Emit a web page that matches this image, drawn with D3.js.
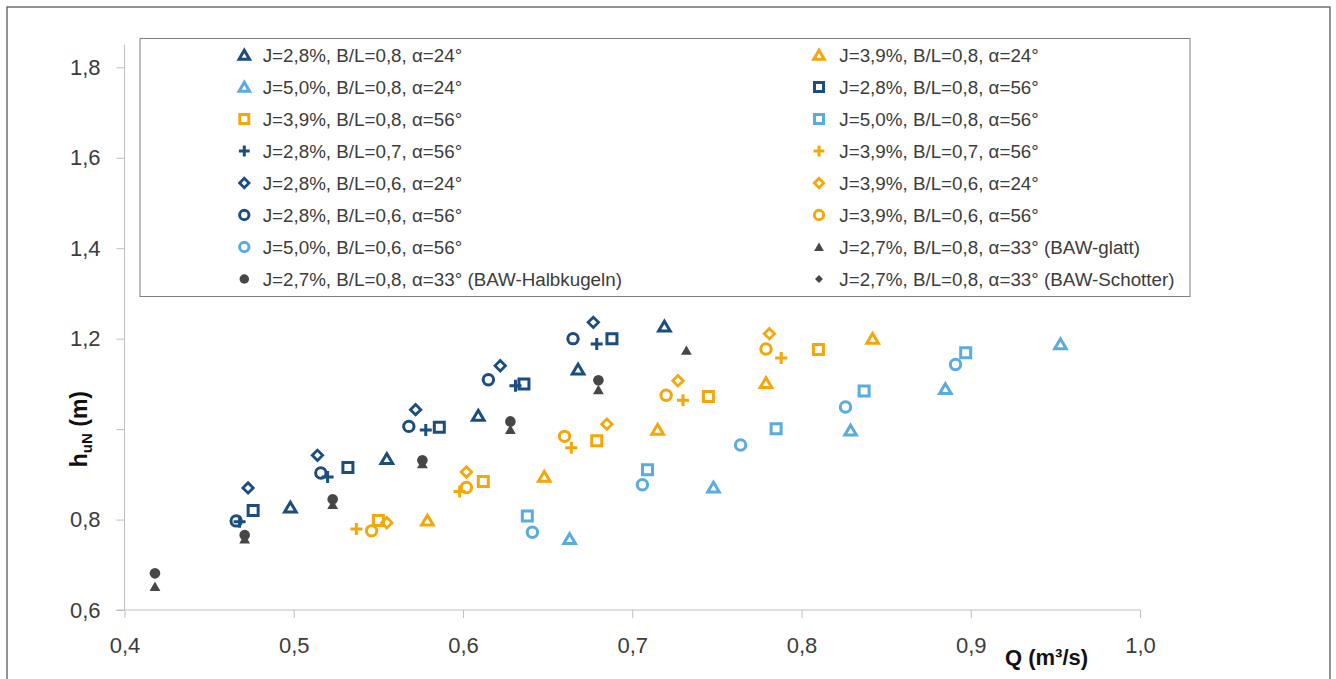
<!DOCTYPE html>
<html><head><meta charset="utf-8">
<script src="https://cdn.jsdelivr.net/npm/d3@7"></script>
<style>
body{margin:0;background:#fff;}
svg{display:block;font-family:"Liberation Sans",Arial,sans-serif;}
</style>
</head><body>
<svg id="c" width="1336" height="679"></svg>
<script>
// ---------------- DATA ----------------
const xTicks = [0.4, 0.5, 0.6, 0.7, 0.8, 0.9, 1.0];
const xTickLabels = ["0,4", "0,5", "0,6", "0,7", "0,8", "0,9", "1,0"];
const yTicks = [0.6, 0.8, 1.0, 1.2, 1.4, 1.6, 1.8];
const yTickLabels = ["0,6", "0,8", "", "1,2", "1,4", "1,6", "1,8"];

const seriesLabels = [
  "J=2,8%, B/L=0,8, α=24°", "J=3,9%, B/L=0,8, α=24°",
  "J=5,0%, B/L=0,8, α=24°", "J=2,8%, B/L=0,8, α=56°",
  "J=3,9%, B/L=0,8, α=56°", "J=5,0%, B/L=0,8, α=56°",
  "J=2,8%, B/L=0,7, α=56°", "J=3,9%, B/L=0,7, α=56°",
  "J=2,8%, B/L=0,6, α=24°", "J=3,9%, B/L=0,6, α=24°",
  "J=2,8%, B/L=0,6, α=56°", "J=3,9%, B/L=0,6, α=56°",
  "J=5,0%, B/L=0,6, α=56°", "J=2,7%, B/L=0,8, α=33° (BAW-glatt)",
  "J=2,7%, B/L=0,8, α=33° (BAW-Halbkugeln)", "J=2,7%, B/L=0,8, α=33° (BAW-Schotter)"
];

// Q values (m³/s) and hN values (m) per series
const q_J28_B08_a24 = [0.498, 0.555, 0.609, 0.668, 0.719];
const h_J28_B08_a24 = [0.827, 0.934, 1.030, 1.132, 1.227];
const q_J39_B08_a24 = [0.579, 0.648, 0.715, 0.779, 0.842];
const h_J39_B08_a24 = [0.798, 0.895, 0.999, 1.102, 1.200];
const q_J50_B08_a24 = [0.663, 0.748, 0.829, 0.885, 0.953];
const h_J50_B08_a24 = [0.757, 0.871, 0.997, 1.089, 1.188];
const q_J28_B08_a56 = [0.476, 0.532, 0.586, 0.636, 0.688];
const h_J28_B08_a56 = [0.820, 0.915, 1.004, 1.100, 1.200];
const q_J39_B08_a56 = [0.550, 0.612, 0.679, 0.745, 0.810];
const h_J39_B08_a56 = [0.798, 0.884, 0.974, 1.072, 1.176];
const q_J50_B08_a56 = [0.638, 0.709, 0.785, 0.837, 0.897];
const h_J50_B08_a56 = [0.808, 0.910, 1.001, 1.084, 1.169];
const q_J28_B07_a56 = [0.468, 0.520, 0.578, 0.631, 0.679];
const h_J28_B07_a56 = [0.795, 0.894, 0.998, 1.096, 1.188];
const q_J39_B07_a56 = [0.537, 0.598, 0.664, 0.730, 0.788];
const h_J39_B07_a56 = [0.779, 0.862, 0.959, 1.064, 1.157];
const q_J28_B06_a24 = [0.473, 0.514, 0.572, 0.622, 0.677];
const h_J28_B06_a24 = [0.870, 0.942, 1.043, 1.140, 1.236];
const q_J39_B06_a24 = [0.555, 0.602, 0.685, 0.727, 0.781];
const h_J39_B06_a24 = [0.793, 0.905, 1.011, 1.107, 1.211];
const q_J28_B06_a56 = [0.466, 0.516, 0.568, 0.615, 0.665];
const h_J28_B06_a56 = [0.797, 0.903, 1.006, 1.109, 1.200];
const q_J39_B06_a56 = [0.546, 0.602, 0.660, 0.720, 0.779];
const h_J39_B06_a56 = [0.775, 0.871, 0.984, 1.075, 1.177];
const q_J50_B06_a56 = [0.641, 0.706, 0.764, 0.826, 0.891];
const h_J50_B06_a56 = [0.772, 0.877, 0.965, 1.049, 1.143];
const q_BAW_glatt = [0.418, 0.471, 0.523, 0.576, 0.628, 0.680, 0.732];
const h_BAW_glatt = [0.652, 0.757, 0.833, 0.923, 0.999, 1.087, 1.174];
const q_BAW_halb = [0.418, 0.471, 0.523, 0.576, 0.628, 0.680];
const h_BAW_halb = [0.681, 0.766, 0.845, 0.931, 1.017, 1.108];
const q_BAW_schotter = [0.418, 0.471, 0.523, 0.576, 0.628, 0.680];
const h_BAW_schotter = [0.681, 0.766, 0.845, 0.931, 1.017, 1.108];

// ---------------- STYLE ----------------
const C_DARK = "#1b4d7e", C_ORANGE = "#f5a70a", C_LIGHT = "#59abe0", C_GRAY = "#474747";
const seriesStyle = [
  [C_DARK, "tri"], [C_ORANGE, "tri"], [C_LIGHT, "tri"],
  [C_DARK, "sq"], [C_ORANGE, "sq"], [C_LIGHT, "sq"],
  [C_DARK, "plus"], [C_ORANGE, "plus"],
  [C_DARK, "dia"], [C_ORANGE, "dia"],
  [C_DARK, "circ"], [C_ORANGE, "circ"], [C_LIGHT, "circ"],
  [C_GRAY, "ftri"], [C_GRAY, "fcirc"], [C_GRAY, "fdia"]
];
const seriesQ = [q_J28_B08_a24, q_J39_B08_a24, q_J50_B08_a24, q_J28_B08_a56, q_J39_B08_a56, q_J50_B08_a56,
  q_J28_B07_a56, q_J39_B07_a56, q_J28_B06_a24, q_J39_B06_a24, q_J28_B06_a56, q_J39_B06_a56, q_J50_B06_a56,
  q_BAW_glatt, q_BAW_halb, q_BAW_schotter];
const seriesH = [h_J28_B08_a24, h_J39_B08_a24, h_J50_B08_a24, h_J28_B08_a56, h_J39_B08_a56, h_J50_B08_a56,
  h_J28_B07_a56, h_J39_B07_a56, h_J28_B06_a24, h_J39_B06_a24, h_J28_B06_a56, h_J39_B06_a56, h_J50_B06_a56,
  h_BAW_glatt, h_BAW_halb, h_BAW_schotter];

const series = seriesLabels.map((name, i) => ({
  name, color: seriesStyle[i][0], shape: seriesStyle[i][1],
  points: seriesQ[i].map((q, j) => ({q, h: seriesH[i][j]}))
}));

function shapePath(shape, k) {
  k = k || 1;
  switch (shape) {
    case "tri": { const w = 5.8 * k, t = 5.2 * k, b = 4.6 * k; return `M0,${-t}L${w},${b}L${-w},${b}Z`; }
    case "ftri": { const w = 5.4 * k, t = 5 * k, b = 4.4 * k; return `M0,${-t}L${w},${b}L${-w},${b}Z`; }
    case "sq": { const s = 5 * k; return `M${-s},${-s}H${s}V${s}H${-s}Z`; }
    case "dia": { const s = 5.2 * k; return `M0,${-s}L${s},0L0,${s}L${-s},0Z`; }
    case "fdia": { const s = 4.4 * k; return `M0,${-s}L${s},0L0,${s}L${-s},0Z`; }
    case "plus": { const s = 6 * k; return `M${-s},0H${s}M0,${-s}V${s}`; }
    case "circ": { const r = 5.2 * k; return `M${r},0A${r},${r} 0 1,1 ${-r},0A${r},${r} 0 1,1 ${r},0Z`; }
    case "fcirc": { const r = 5.3 * k; return `M${r},0A${r},${r} 0 1,1 ${-r},0A${r},${r} 0 1,1 ${r},0Z`; }
  }
}
function styleMarker(sel, d) {
  const filled = d.shape.startsWith("f");
  sel.attr("fill", filled ? d.color : "none")
     .attr("stroke", filled ? "none" : d.color)
     .attr("stroke-width", d.shape === "dia" ? 2.8 : 3)
     .attr("stroke-linejoin", "miter");
}

// ---------------- CHART ----------------
const svg = d3.select("#c");
svg.append("rect").attr("x", 7).attr("y", 7).attr("width", 1323).attr("height", 700)
  .attr("fill", "#fff").attr("stroke", "#5a5a5a").attr("stroke-width", 1.3);

const x = d3.scaleLinear().domain([0.4, 1.0]).range([124.5, 1140]);
const y = d3.scaleLinear().domain([0.6, 1.8]).range([610, 67.3]);
const yTop = y(1.85);

// y axis
const gy = svg.append("g").attr("transform", `translate(${x(0.4)},0)`)
  .call(d3.axisLeft(y).tickValues(yTicks).tickFormat((d, i) => yTickLabels[i]).tickSize(8).tickSizeOuter(0).tickPadding(16));
gy.select(".domain").attr("d", `M0,${yTop}V${y(0.6)}`);
// x axis
const gx = svg.append("g").attr("transform", `translate(0,${y(0.6)})`)
  .call(d3.axisBottom(x).tickValues(xTicks).tickFormat((d, i) => xTickLabels[i]).tickSize(8).tickSizeOuter(0).tickPadding(19));
[gx, gy].forEach(g => {
  g.select(".domain").attr("stroke", "#bfbfbf");
  g.selectAll(".tick line").attr("stroke", "#bfbfbf");
  g.selectAll(".tick text").attr("fill", "#3c3c3c").style("font-size", "22px")
    .style("font-family", '"Liberation Sans", Arial, sans-serif');
});
gx.select(".domain").attr("d", `M${x(0.4) - 8},0H${x(1.0)}`);

// axis titles
const yt = svg.append("text").attr("transform", `translate(87,${y(1.0)}) rotate(-90)`)
  .attr("text-anchor", "middle").attr("fill", "#111").style("font-weight", "bold").style("font-size", "23px");
yt.append("tspan").text("h");
yt.append("tspan").text("uN").style("font-size", "15px").attr("dy", 5);
yt.append("tspan").text(" (m)").attr("dy", -5);

svg.append("text").attr("x", 1005).attr("y", 665).attr("fill", "#111")
  .style("font-weight", "bold").style("font-size", "22px")
  .style("font-family", '"Liberation Sans Narrow", "Liberation Sans", Arial, sans-serif')
  .text("Q (m³/s)");

// points
const gp = svg.append("g");
series.forEach(s => {
  gp.append("g").selectAll("path").data(s.points).join("path")
    .attr("d", shapePath(s.shape))
    .attr("transform", p => `translate(${x(p.q)},${y(p.h)})`)
    .call(sel => styleMarker(sel, s));
});

// legend
const lg = svg.append("g");
lg.append("rect").attr("x", 140).attr("y", 38.5).attr("width", 1050).attr("height", 258)
  .attr("fill", "#fff").attr("stroke", "#7f7f7f").attr("stroke-width", 1);
series.forEach((s, i) => {
  const row = Math.floor(i / 2), col = i % 2;
  const mx = col ? 819 : 244.3, tx = col ? 839.3 : 262.7, yy = 55 + row * 32;
  lg.append("path").attr("d", shapePath(s.shape, 0.9)).attr("transform", `translate(${mx},${yy})`)
    .call(sel => styleMarker(sel, s));
  lg.append("text").attr("x", tx).attr("y", yy).attr("dy", "0.36em")
    .attr("fill", "#3c3c3c").style("font-size", "18.8px").text(s.name);
});
</script>
</body></html>
